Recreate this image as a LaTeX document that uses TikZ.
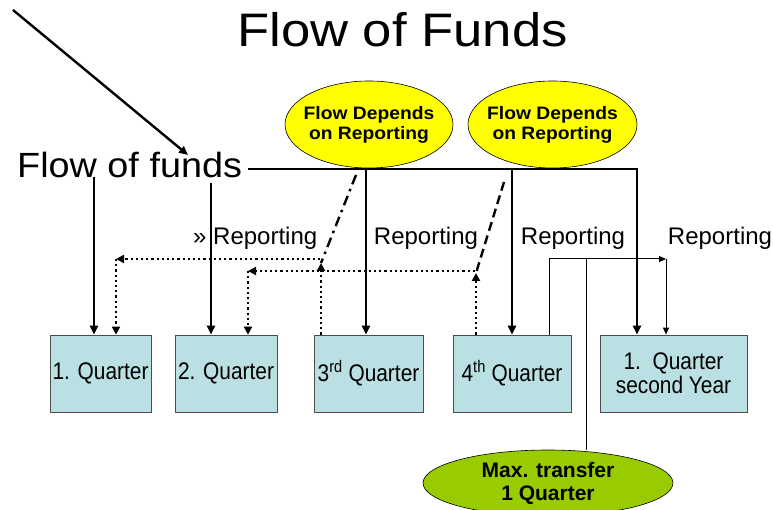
\documentclass[tikz,border=0pt]{standalone}
\usepackage{fontspec}
\usepackage{graphicx}
\setmainfont{Liberation Sans}
\usetikzlibrary{arrows.meta,shapes.geometric}
\definecolor{qfill}{HTML}{BBE0E3}
\definecolor{yfill}{HTML}{FFFF00}
\definecolor{gfill}{HTML}{99CC00}
\newcommand\fsz[2]{\fontsize{#1}{#2}\selectfont}
\begin{document}
\begin{tikzpicture}[x=1pt,y=-1pt,
  qbox/.style={draw=black!70, line width=0.8pt, fill=qfill, minimum width=#1, minimum height=77pt, inner sep=0pt, align=center, font=\fsz{24}{24}},
  yell/.style={ellipse, draw=black, line width=0.6pt, fill=yfill, minimum width=168pt, minimum height=87pt, inner xsep=-8pt, inner ysep=0pt, align=center, font=\bfseries\fsz{18}{20}},
  gell/.style={ellipse, draw=black, line width=0.6pt, fill=gfill, minimum width=250pt, minimum height=66pt, inner sep=0pt, align=center, font=\bfseries\fsz{21}{23}},
  lbl/.style={inner sep=0pt, font=\fsz{24}{28}},
  main/.style={line width=2.4pt, -{Triangle[length=9pt,width=8pt]}},
  dotline/.style={line width=2.5pt, dash pattern=on 2.2pt off 3pt},
  dottip/.style={dotline, -{Triangle[length=8pt,width=8pt]}},
  thin/.style={line width=1pt},
  thintip/.style={thin, -{Triangle[length=7pt,width=6pt]}}
]
\useasboundingbox (0,0) rectangle (773,510);

% titles
\node[inner sep=0pt, anchor=base, font=\fsz{47}{56}] (title) at (402.5,47) {\scalebox{1.12}[1]{Flow of Funds}};
\node[inner sep=0pt, anchor=base west, font=\fsz{35}{42}] (fof) at (17,178) {\scalebox{1.08}[1]{Flow of funds}};
\coordinate (diagstart) at (13,10);
\draw[main] (diagstart) -- (188,155);

% ellipses
\node[yell] (e1) at (369,124.5) {\scalebox{1.07}[1]{Flow Depends}\\\scalebox{1.07}[1]{on Reporting}};
\node[yell, minimum width=169pt] (e2) at (552.5,124.5) {\scalebox{1.07}[1]{Flow Depends}\\\scalebox{1.07}[1]{on Reporting}};
\node[gell] (g) at (548,483) {Max. transfer\\1 Quarter};

% boxes
\node[qbox=101pt] (b1) at (100.5,373.5) {\scalebox{0.87}[1]{1. Quarter}};
\node[qbox=102pt] (b2) at (226,373.5) {\scalebox{0.87}[1]{2. Quarter}};
\node[qbox=109pt] (b3) at (368.5,373.5) {\scalebox{0.87}[1]{3\textsuperscript{rd} Quarter}};
\node[qbox=118pt] (b4) at (512,373.5) {\scalebox{0.87}[1]{4\textsuperscript{th} Quarter}};
\node[qbox=147pt] (b5) at (673.5,373.5) {\scalebox{0.87}[1]{1.~~Quarter}\\\scalebox{0.87}[1]{second Year}};

% reporting labels
\node[lbl, anchor=base west] (r1) at (193,245) {» Reporting};
\node[lbl, anchor=base] (r2) at (426,245) {Reporting};
\node[lbl, anchor=base] (r3) at (573,245) {Reporting};
\node[lbl, anchor=base] (r4) at (720,245) {Reporting};

% main flow bus
\coordinate (busstart) at (248,169);
\coordinate (busend) at (637,169);
\draw[main] (busstart) -- (busend) -- (637,0 |- b5.north);
\draw[main] (366,169) -- (366,0 |- b3.north);
\draw[main] (512,169) -- (512,0 |- b4.north);
\draw[main] (94,177) -- (94,0 |- b1.north);
\draw[main] (211,183) -- (211,0 |- b2.north);

% reporting from 3rd quarter to 1st quarter
\coordinate (c3) at (321,263);
\coordinate (c1) at (116,259);
\draw[dottip] (321,0 |- b3.north) -- (c3);
\draw[dottip] (320,259) -- (c1);
\draw[dottip] (c1) -- (116,0 |- b1.north);
\draw[line width=2.4pt, dash pattern=on 10pt off 5pt on 2.5pt off 5pt] (356,175) -- (c3);

% reporting from 4th quarter to 2nd quarter
\coordinate (c4) at (476,273);
\coordinate (c2) at (248,271);
\draw[dottip] (476,0 |- b4.north) -- (c4);
\draw[dottip] (475,271) -- (c2);
\draw[dottip] (c2) -- (248,0 |- b2.north);
\draw[line width=2.4pt, dash pattern=on 9pt off 5pt] (504,182) -- (c4);

% thin connectors
\coordinate (t1) at (549,259);
\coordinate (t2) at (666,259);
\draw[thintip] (549,0 |- b4.north) -- (t1) -- (t2);
\draw[thintip] (t2) -- (666,0 |- b5.north);
\draw[thin] (586,259) -- (g.north -| 586,0);
\end{tikzpicture}
\end{document}
